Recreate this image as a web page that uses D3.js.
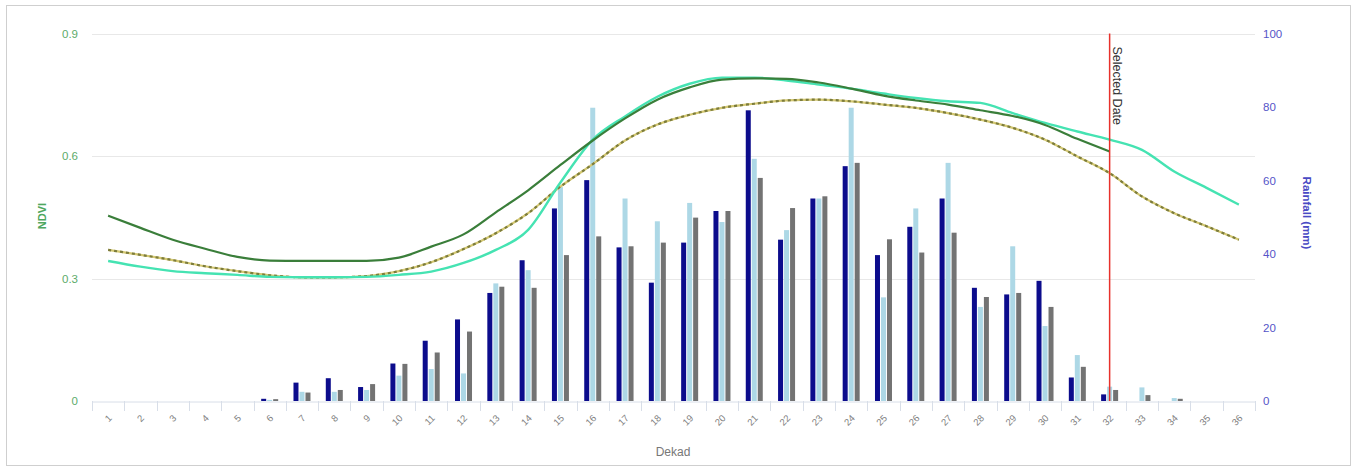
<!DOCTYPE html>
<html>
<head>
<meta charset="utf-8">
<script src="https://cdn.jsdelivr.net/npm/d3@7"></script>
<style>
  html, body { margin: 0; padding: 0; background: #fff; }
  svg { display: block; font-family: "Liberation Sans", Arial, sans-serif; }
</style>
</head>
<body>
<svg id="chart" width="1357" height="470"></svg>
<script>
const dekads = ['1', '2', '3', '4', '5', '6', '7', '8', '9', '10', '11', '12', '13', '14', '15', '16', '17', '18',
  '19', '20', '21', '22', '23', '24', '25', '26', '27', '28', '29', '30', '31', '32', '33', '34', '35', '36'];

// rainfall (mm) per dekad
const rainCurrent = [0, 0, 0, 0, 0, 0.6, 5.0, 6.2, 3.8, 10.2, 16.4, 22.2, 29.4, 38.3, 52.4, 60.1, 41.8, 32.2,
  43.1, 51.7, 79.1, 43.9, 55.1, 63.9, 39.7, 47.4, 55.1, 30.8, 29.0, 32.7, 6.4, 1.8, 0, 0, 0, 0];
const rainPrevious = [0, 0, 0, 0, 0, 0.3, 2.5, 2.5, 3.0, 6.9, 8.7, 7.5, 32.0, 35.6, 58.2, 79.8, 55.1, 48.9,
  53.9, 48.7, 65.9, 46.5, 55.1, 79.8, 28.2, 52.4, 64.8, 25.6, 42.1, 20.4, 12.5, 3.9, 3.7, 0.8, 0, 0];
const rainAverage = [0, 0, 0, 0, 0, 0.5, 2.3, 3.0, 4.6, 10.1, 13.2, 18.9, 31.1, 30.8, 39.7, 44.8, 42.1, 43.1,
  49.9, 51.7, 60.7, 52.5, 55.7, 64.8, 44.0, 40.4, 45.8, 28.3, 29.4, 25.6, 9.3, 3.0, 1.6, 0.6, 0, 0];

// NDVI per dekad (current season stops at the selected date)
const ndviCurrent = [0.454, 0.424, 0.395, 0.373, 0.353, 0.344, 0.343, 0.343, 0.343, 0.351, 0.378, 0.408,
  0.462, 0.516, 0.578, 0.638, 0.692, 0.738, 0.768, 0.787, 0.790, 0.789, 0.780, 0.765, 0.748, 0.736, 0.726,
  0.712, 0.698, 0.676, 0.642, 0.611];
const ndviPrevious = [0.343, 0.329, 0.318, 0.313, 0.309, 0.304, 0.303, 0.303, 0.304, 0.309, 0.317, 0.338,
  0.370, 0.419, 0.535, 0.640, 0.697, 0.745, 0.777, 0.792, 0.792, 0.785, 0.775, 0.765, 0.753, 0.742, 0.734,
  0.730, 0.705, 0.681, 0.660, 0.640, 0.615, 0.562, 0.522, 0.481];
const ndviAverage = [0.370, 0.358, 0.345, 0.330, 0.318, 0.308, 0.303, 0.303, 0.306, 0.318, 0.340, 0.372,
  0.411, 0.460, 0.525, 0.580, 0.638, 0.677, 0.701, 0.718, 0.728, 0.736, 0.738, 0.734, 0.726, 0.718, 0.705,
  0.689, 0.669, 0.640, 0.599, 0.558, 0.501, 0.460, 0.428, 0.395];

const ndviTicks = [0, 0.3, 0.6, 0.9];
const rainTicks = [0, 20, 40, 60, 80, 100];
const selectedDekad = '32';

const svg = d3.select('#chart');
const plotLeft = 92, plotRight = 1255, plotTop = 33.5, plotBottom = 401;

// outer frame
svg.append('rect')
  .attr('x', 6.5).attr('y', 5.5).attr('width', 1344).attr('height', 460)
  .attr('fill', '#fff').attr('stroke', '#cfcfcf');

const x = d3.scaleBand().domain(dekads).range([plotLeft, plotRight]).padding(0);
const cx = (d) => x(d) + x.bandwidth() / 2;
const yNdvi = d3.scaleLinear().domain([0, 0.9]).range([plotBottom, plotTop]);
const yRain = d3.scaleLinear().domain([0, 100]).range([plotBottom, plotTop]);

// grid lines from the NDVI axis
svg.append('g').selectAll('line')
  .data(ndviTicks.filter((t) => t > 0))
  .join('line')
  .attr('x1', plotLeft).attr('x2', plotRight)
  .attr('y1', (d) => Math.round(yNdvi(d)) + 0.5).attr('y2', (d) => Math.round(yNdvi(d)) + 0.5)
  .attr('stroke', '#e8e8e8');

// x axis
const xAxis = svg.append('g')
  .attr('transform', `translate(0,${plotBottom + 0.5})`)
  .call(d3.axisBottom(x).tickSize(0).tickPadding(0));
xAxis.select('.domain').attr('stroke', '#d8dee8');
xAxis.selectAll('.tick line').remove();
xAxis.selectAll('.tick text')
  .attr('fill', '#808080').attr('font-size', 9.5)
  .attr('text-anchor', 'end')
  .attr('transform', 'translate(2,15) rotate(-45)')
  .attr('dy', '0.35em').attr('x', 0).attr('y', 0);
// boundary ticks between dekads
svg.append('g').selectAll('line')
  .data([...dekads.map((d) => x(d)), plotRight])
  .join('line')
  .attr('x1', (d) => Math.round(d) + 0.5).attr('x2', (d) => Math.round(d) + 0.5)
  .attr('y1', plotBottom).attr('y2', plotBottom + 10)
  .attr('stroke', '#d8dee8');

// left NDVI axis
const yLeft = svg.append('g')
  .attr('transform', `translate(${plotLeft - 14},0)`)
  .call(d3.axisLeft(yNdvi).tickValues(ndviTicks).tickSize(0).tickPadding(0)
    .tickFormat((d) => d === 0 ? '0' : d3.format('.1f')(d)));
yLeft.select('.domain').remove();
yLeft.selectAll('text').attr('fill', '#5cab6a').attr('font-size', 11.5);

// right rainfall axis
const yRight = svg.append('g')
  .attr('transform', `translate(${plotRight + 8},0)`)
  .call(d3.axisRight(yRain).tickValues(rainTicks).tickSize(0).tickPadding(0));
yRight.select('.domain').remove();
yRight.selectAll('text').attr('fill', '#5555c8').attr('font-size', 11.5);

// axis titles
svg.append('text')
  .attr('transform', 'translate(46,216) rotate(-90)')
  .attr('text-anchor', 'middle').attr('font-size', 11).attr('font-weight', 'bold')
  .attr('fill', '#4fa75f').text('NDVI');
svg.append('text')
  .attr('transform', 'translate(1303,213) rotate(90)')
  .attr('text-anchor', 'middle').attr('font-size', 11.5).attr('font-weight', 'bold')
  .attr('fill', '#4a4ac4').text('Rainfall (mm)');
svg.append('text')
  .attr('x', 673).attr('y', 456)
  .attr('text-anchor', 'middle').attr('font-size', 12)
  .attr('fill', '#777').text('Dekad');

// grouped rainfall bars
const rainSeries = [
  { key: 'current', values: rainCurrent, color: '#0c0c8c' },
  { key: 'previous', values: rainPrevious, color: '#add8e6' },
  { key: 'average', values: rainAverage, color: '#737373' }
];
const x1 = d3.scaleBand().domain(rainSeries.map((s) => s.key)).range([-9, 9]).padding(0);
svg.append('g').selectAll('g')
  .data(rainSeries)
  .join('g')
  .attr('fill', (s) => s.color)
  .selectAll('rect')
  .data((s) => s.values.map((v, i) => ({ key: s.key, dekad: dekads[i], v })))
  .join('rect')
  .attr('x', (d) => cx(d.dekad) + x1(d.key) + 0.5)
  .attr('width', x1.bandwidth() - 1)
  .attr('y', (d) => yRain(d.v))
  .attr('height', (d) => yRain(0) - yRain(d.v));

// NDVI lines
const line = d3.line()
  .x((d) => cx(d.dekad))
  .y((d) => yNdvi(d.v))
  .curve(d3.curveMonotoneX);
const toPoints = (values) => values.map((v, i) => ({ dekad: dekads[i], v }));

const lines = svg.append('g').attr('fill', 'none').attr('stroke-linejoin', 'round');
lines.append('path')
  .attr('d', line(toPoints(ndviAverage)))
  .attr('stroke', '#d4c872').attr('stroke-width', 2.2);
lines.append('path')
  .attr('d', line(toPoints(ndviAverage)))
  .attr('stroke', '#7c7c3c').attr('stroke-width', 2.2).attr('stroke-dasharray', '3,3');
lines.append('path')
  .attr('d', line(toPoints(ndviPrevious)))
  .attr('stroke', '#45e3b2').attr('stroke-width', 2.4);
lines.append('path')
  .attr('d', line(toPoints(ndviCurrent)))
  .attr('stroke', '#3a7e3a').attr('stroke-width', 2.2);

// selected date marker
const sx = cx(selectedDekad);
svg.append('line')
  .attr('x1', sx).attr('x2', sx)
  .attr('y1', plotTop).attr('y2', plotBottom)
  .attr('stroke', '#e8312b').attr('stroke-width', 1.5);
svg.append('text')
  .attr('transform', `translate(${sx + 3},${plotTop + 13}) rotate(90)`)
  .attr('font-size', 12.5).attr('fill', '#333')
  .text('Selected Date');
</script>
</body>
</html>
